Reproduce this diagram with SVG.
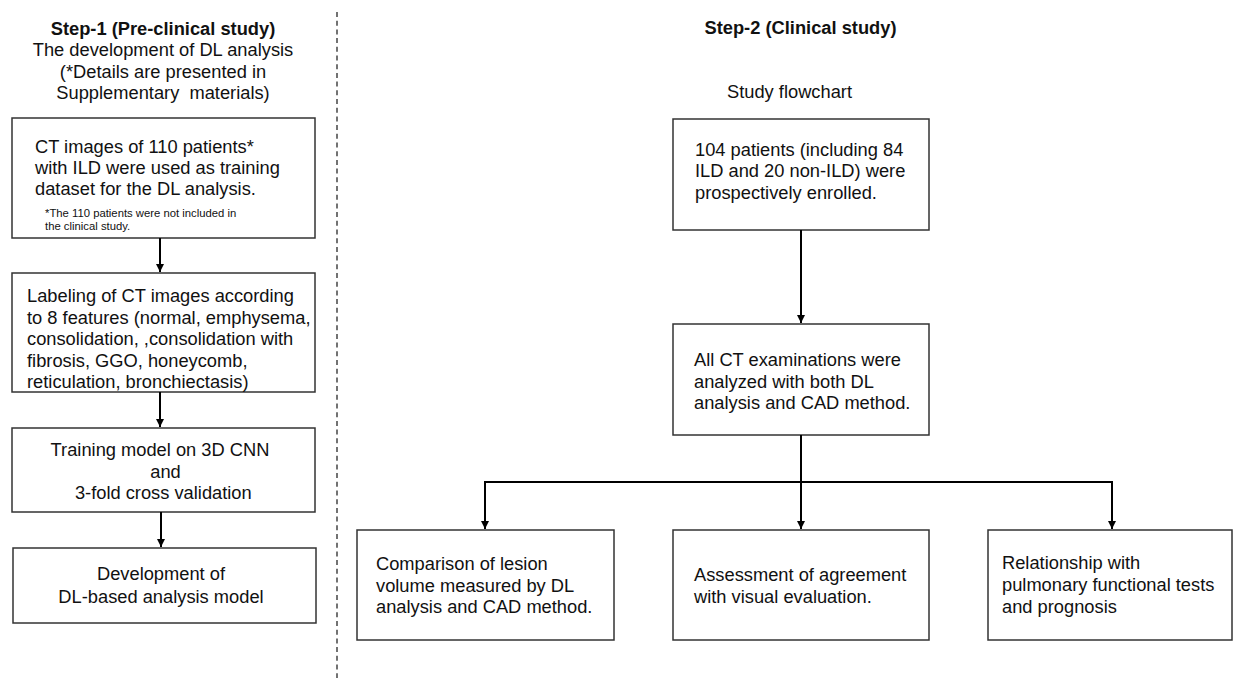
<svg xmlns="http://www.w3.org/2000/svg" width="1233" height="678" viewBox="0 0 1233 678">
<style>
text{font-family:"Liberation Sans",Arial,sans-serif;font-size:18.3px;fill:#111}
.b{font-weight:bold}
.m{text-anchor:middle}
.s{font-size:11.3px}
.box{fill:#fff;stroke:#333;stroke-width:1.5}
.c{fill:none;stroke:#000;stroke-width:2}
</style>
<defs>
<marker id="ah" viewBox="0 0 10 10" refX="10" refY="5" markerWidth="4" markerHeight="4" orient="auto" markerUnits="strokeWidth">
<path d="M0,0 L10,5 L0,10 z" fill="#000"/>
</marker>
</defs>
<rect width="1233" height="678" fill="#fff"/>
<line x1="337" y1="12" x2="337" y2="678" stroke="#444" stroke-width="1.5" stroke-dasharray="5,3.7"/>
<g id="heading1">
<text class="b m" x="163" y="35">Step-1 (Pre-clinical study)</text>
<text class="m" x="163" y="56">The development of DL analysis</text>
<text class="m" x="163" y="77.5">(*Details are presented in</text>
<text class="m" x="163" y="99" xml:space="preserve">Supplementary  materials)</text>
</g>
<g id="heading2">
<text class="b m" x="800.5" y="34">Step-2 (Clinical study)</text>
<text class="m" x="789.5" y="98">Study flowchart</text>
</g>
<g id="n1">
<rect class="box" x="12" y="118" width="303" height="120"/>
<text x="35" y="153">CT images of 110 patients*</text>
<text x="35" y="174">with ILD were used as training</text>
<text x="35" y="195">dataset for the DL analysis.</text>
<text class="s" x="45" y="217">*The 110 patients were not included in</text>
<text class="s" x="45" y="230">the clinical study.</text>
</g>
<g id="n2">
<rect class="box" x="12" y="273" width="303" height="119"/>
<text x="27" y="302">Labeling of CT images according</text>
<text x="27" y="323.5">to 8 features (normal, emphysema,</text>
<text x="27" y="345">consolidation, ,consolidation with</text>
<text x="27" y="366.5">fibrosis, GGO, honeycomb,</text>
<text x="27" y="388">reticulation, bronchiectasis)</text>
</g>
<g id="n3">
<rect class="box" x="12" y="428" width="303" height="84"/>
<text class="m" x="160" y="456">Training model on 3D CNN</text>
<text class="m" x="165.5" y="477.5">and</text>
<text class="m" x="163.3" y="498.5">3-fold cross validation</text>
</g>
<g id="n4">
<rect class="box" x="13" y="548" width="303" height="75"/>
<text class="m" x="161" y="580">Development of</text>
<text class="m" x="161" y="602.5">DL-based analysis model</text>
</g>
<g id="r1">
<rect class="box" x="673" y="119" width="256" height="111"/>
<text x="695" y="155.5">104 patients (including 84</text>
<text x="695" y="177">ILD and 20 non-ILD) were</text>
<text x="695" y="198.5">prospectively enrolled.</text>
</g>
<g id="r2">
<rect class="box" x="673" y="324" width="256" height="111"/>
<text x="694" y="365.5">All CT examinations were</text>
<text x="694" y="387.5">analyzed with both DL</text>
<text x="694" y="409">analysis and CAD method.</text>
</g>
<g id="b1">
<rect class="box" x="357" y="530" width="257" height="110"/>
<text x="376" y="569.5">Comparison of lesion</text>
<text x="376" y="591.5">volume measured by DL</text>
<text x="376" y="613">analysis and CAD method.</text>
</g>
<g id="b2">
<rect class="box" x="673" y="530" width="256" height="110"/>
<text x="694" y="581">Assessment of agreement</text>
<text x="694" y="603">with visual evaluation.</text>
</g>
<g id="b3">
<rect class="box" x="988" y="530" width="244" height="110"/>
<text x="1002" y="569">Relationship with</text>
<text x="1002" y="591">pulmonary functional tests</text>
<text x="1002" y="613">and prognosis</text>
</g>
<g id="connectors">
<line class="c" x1="160" y1="238" x2="160" y2="272" marker-end="url(#ah)"/>
<line class="c" x1="160" y1="392" x2="160" y2="427" marker-end="url(#ah)"/>
<line class="c" x1="161" y1="512" x2="161" y2="547" marker-end="url(#ah)"/>
<line class="c" x1="801" y1="230" x2="801" y2="323" marker-end="url(#ah)"/>
<line class="c" x1="801" y1="435" x2="801" y2="529" marker-end="url(#ah)"/>
<polyline class="c" points="485,482 1112,482"/>
<line class="c" x1="485" y1="481" x2="485" y2="529" marker-end="url(#ah)"/>
<line class="c" x1="1112" y1="481" x2="1112" y2="529" marker-end="url(#ah)"/>
</g>
</svg>
